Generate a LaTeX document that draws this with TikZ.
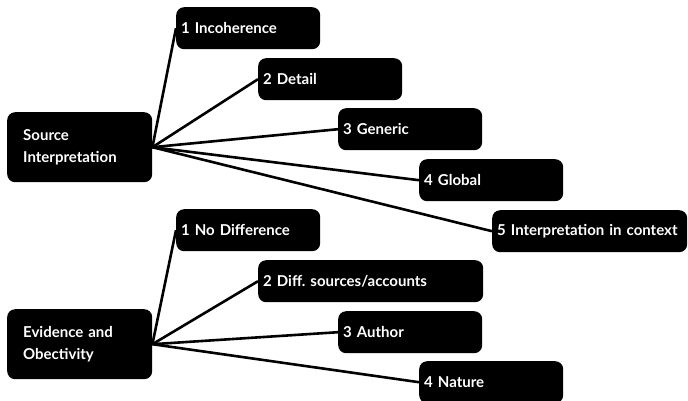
\documentclass[tikz,border=0pt]{standalone}
\usepackage{fontspec}
\setmainfont{Lato}
\frenchspacing
\usetikzlibrary{positioning}

\begin{document}
\begin{tikzpicture}[
    x=1pt, y=-1pt,
    font=\bfseries\fontsize{15}{22}\selectfont,
    topic/.style={fill=black, text=white, rounded corners=8pt, anchor=north west,
      minimum height=70pt, text width=113pt, inner xsep=16pt, align=left},
    item/.style={fill=black, text=white, rounded corners=8pt, anchor=north west,
      minimum height=42pt, text width=134pt, inner xsep=5pt, align=left},
    link/.style={line width=2.6pt}
  ]
\useasboundingbox (0,0) rectangle (688,400);

% =================== source interpretation ===================
\node[topic] (src) at (7,112) {Source\\Interpretation};
\node[item] (src1) at (176,7) {1 Incoherence};
\node[item] (src2) at (258,58) {2 Detail};
\node[item] (src3) at (338,108) {3 Generic};
\node[item] (src4) at (419,159) {4 Global};
\node[item, text width=185pt] (src5) at (492,210) {\mbox{5 Interpretation in context}};

\foreach \k in {1,...,5}
  \draw[link] (src.east) -- (src\k.west);

% =================== evidence and objectivity ===================
\node[topic] (evd) at (7,309) {Evidence and\\Obectivity};
\node[item] (evd1) at (176,209) {1 No Difference};
\node[item, text width=215pt] (evd2) at (258,260) {2 Diff. sources/accounts};
\node[item] (evd3) at (338,311) {3 Author};
\node[item] (evd4) at (419,361) {4 Nature};

\foreach \k in {1,...,4}
  \draw[link] (evd.east) -- (evd\k.west);

\end{tikzpicture}
\end{document}
